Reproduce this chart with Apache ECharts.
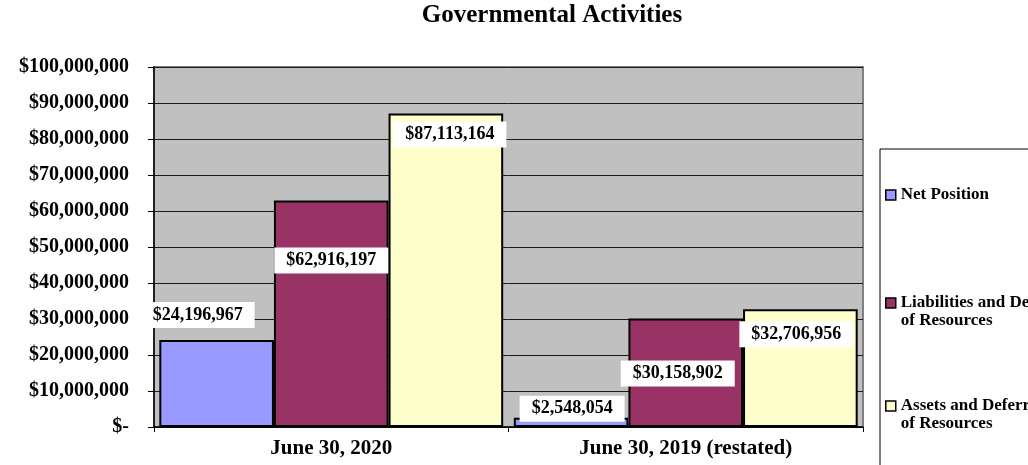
<!DOCTYPE html>
<html>
<head>
<meta charset="utf-8">
<script src="https://cdn.jsdelivr.net/npm/echarts@6/dist/echarts.min.js"></script>
<style>
html,body{margin:0;padding:0;background:#fff;}
#chart{width:1028px;height:465px;}
</style>
</head>
<body>
<div id="chart"></div>
<script>
const titleText = 'Governmental Activities';
const categories = ['June 30, 2020', 'June 30, 2019 (restated)'];
const seriesNames = ['Net Position', 'Liabilities and Deferred Inflows of Resources', 'Assets and Deferred Outflows of Resources'];
const netPosition = [24196967, 2548054];
const liabilities = [62916197, 30158902];
const assets = [87113164, 32706956];
const yMin = 0;
const yMax = 100000000;
const yInterval = 10000000;

const FONT = "'Liberation Serif', 'Times New Roman', serif";
const colors = ['#9999FF', '#993366', '#FFFFCC'];
// label placement style (offset from top-centre of each bar)
const labelOffsets = [
  [[-19, -12], [1, 4]],
  [[0, 73], [-8, 68]],
  [[4, 34], [-4, 38]]
];
const legendTops = [186, 276, 379];

function money(v) {
  return '$' + Number(v).toLocaleString('en-US');
}

const seriesData = [netPosition, liabilities, assets];

const series = seriesData.map((arr, si) => ({
  name: seriesNames[si],
  type: 'bar',
  barGap: '0%',
  barCategoryGap: '3%',
  itemStyle: { color: colors[si], borderColor: '#000', borderWidth: 2 },
  data: arr.map((v, ci) => ({
    value: v,
    label: { offset: labelOffsets[si][ci] }
  })),
  label: {
    show: true,
    position: 'top',
    distance: 0,
    formatter: p => money(p.value),
    color: '#000',
    fontFamily: FONT,
    fontWeight: 'bold',
    fontSize: 18,
    lineHeight: 20,
    backgroundColor: '#fff',
    padding: [3, 12]
  }
}));

const legends = seriesNames.map((n, i) => ({
  data: [n],
  orient: 'vertical',
  left: 885,
  top: legendTops[i],
  padding: 0,
  icon: 'rect',
  itemWidth: 10,
  itemHeight: 10,
  selectedMode: false,
  itemStyle: { borderColor: '#000', borderWidth: 1.5 },
  formatter: name => name.indexOf(' of Resources') >= 0
    ? ' \n' + name.replace(' of Resources', '\nof Resources')
    : name,
  textStyle: {
    fontFamily: FONT,
    fontWeight: 'bold',
    fontSize: 17,
    lineHeight: 18,
    color: '#000'
  }
}));

const chart = echarts.init(document.getElementById('chart'), null, { renderer: 'canvas' });
chart.setOption({
  animation: false,
  backgroundColor: '#fff',
  title: {
    text: titleText,
    left: 552,
    top: 3,
    padding: 0,
    textAlign: 'center',
    textStyle: { fontFamily: FONT, fontWeight: 'bold', fontSize: 25, color: '#000' }
  },
  graphic: [{
    type: 'rect',
    shape: { x: 880, y: 149, width: 170, height: 340 },
    style: { fill: '#fff', stroke: '#000', lineWidth: 1 },
    z: -1
  }],
  legend: legends,
  grid: {
    left: 154, right: 165, top: 67, bottom: 38,
    show: true,
    backgroundColor: '#C0C0C0',
    borderColor: '#808080',
    borderWidth: 2
  },
  xAxis: {
    type: 'category',
    data: categories,
    axisLine: { lineStyle: { color: '#000', width: 1.5 } },
    axisTick: { show: true, length: 5, lineStyle: { color: '#000' } },
    axisLabel: {
      margin: 11,
      color: '#000',
      fontFamily: FONT,
      fontWeight: 'bold',
      fontSize: 21
    }
  },
  yAxis: {
    type: 'value',
    min: yMin,
    max: yMax,
    interval: yInterval,
    axisLine: { show: true, lineStyle: { color: '#000', width: 1.5 } },
    axisTick: { show: true, length: 6, lineStyle: { color: '#000' } },
    splitLine: { lineStyle: { color: '#1a1a1a', width: 1 } },
    axisLabel: {
      margin: 25,
      color: '#000',
      fontFamily: FONT,
      fontWeight: 'bold',
      fontSize: 20,
      formatter: v => v === 0 ? '$-' : money(v)
    }
  },
  series: series
});
</script>
</body>
</html>
